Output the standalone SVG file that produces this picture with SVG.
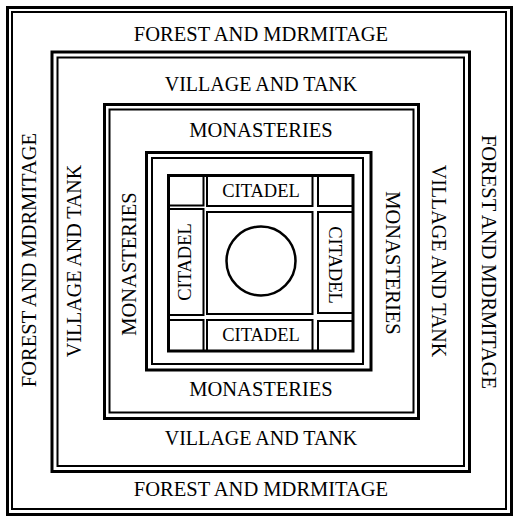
<svg xmlns="http://www.w3.org/2000/svg" width="514" height="518" viewBox="0 0 514 518">
<style>
.o{fill:none;stroke:#000;stroke-width:3}
.i{fill:none;stroke:#000;stroke-width:2}
.t{font-family:"Liberation Serif","Times New Roman",serif;font-size:20px;fill:#000;text-anchor:middle}
.f{font-size:20.5px}
.c{font-size:18.5px}
</style>
<rect width="514" height="518" fill="#fff"/>
<g id="forest">
<rect class="o" x="7.5" y="7.5" width="504" height="507"/>
<rect class="i" x="12" y="12" width="494" height="497"/>
<text class="t f" x="261" y="40.5">FOREST AND MDRMITAGE</text>
<text class="t f" x="261" y="496">FOREST AND MDRMITAGE</text>
<text class="t f" transform="translate(36,260) rotate(-90)">FOREST AND MDRMITAGE</text>
<text class="t f" transform="translate(482,262) rotate(90)">FOREST AND MDRMITAGE</text>
</g>
<g id="village">
<rect class="o" x="52" y="52" width="417.5" height="419.5"/>
<rect class="i" x="57.5" y="57.5" width="406.5" height="408.5"/>
<text class="t" x="261" y="91">VILLAGE AND TANK</text>
<text class="t" x="261" y="445">VILLAGE AND TANK</text>
<text class="t" transform="translate(81,261) rotate(-90)">VILLAGE AND TANK</text>
<text class="t" transform="translate(432,261) rotate(90)">VILLAGE AND TANK</text>
</g>
<g id="monasteries">
<rect class="o" x="104.5" y="104.5" width="314" height="314"/>
<rect class="i" x="109.5" y="109.5" width="304" height="303"/>
<text class="t f" x="261" y="137">MONASTERIES</text>
<text class="t f" x="261" y="396">MONASTERIES</text>
<text class="t f" transform="translate(136,264) rotate(-90)">MONASTERIES</text>
<text class="t f" transform="translate(386,263) rotate(90)">MONASTERIES</text>
</g>
<g id="citadel-frame">
<rect class="o" x="146.5" y="152.5" width="224.5" height="217.5"/>
<rect class="i" x="152" y="158" width="211" height="206"/>
<rect class="o" x="168.5" y="175.5" width="184.5" height="175.5"/>
</g>
<g id="corner-tl"><rect class="i" x="168.5" y="175.5" width="35" height="30"/></g>
<g id="corner-tr"><rect class="i" x="318" y="175.5" width="35" height="30.5"/></g>
<g id="corner-bl"><rect class="i" x="168.5" y="320" width="35" height="31"/></g>
<g id="corner-br"><rect class="i" x="318" y="321" width="35" height="30"/></g>
<g id="citadel-top">
<rect class="i" x="207" y="175.5" width="105.5" height="30.5"/>
<text class="t c" x="261" y="197">CITADEL</text>
</g>
<g id="citadel-bottom">
<rect class="i" x="207" y="320" width="105.5" height="31"/>
<text class="t c" x="261" y="341">CITADEL</text>
</g>
<g id="citadel-left">
<rect class="i" x="168.5" y="209" width="35" height="106"/>
<text class="t c" transform="translate(191,262) rotate(-90)">CITADEL</text>
</g>
<g id="citadel-right">
<rect class="i" x="318" y="212" width="35" height="101"/>
<text class="t c" transform="translate(329,265) rotate(90)">CITADEL</text>
</g>
<g id="center">
<rect class="i" x="207" y="212" width="105.5" height="102"/>
<circle cx="261" cy="261" r="34.5" fill="none" stroke="#000" stroke-width="2.5"/>
</g>
</svg>
